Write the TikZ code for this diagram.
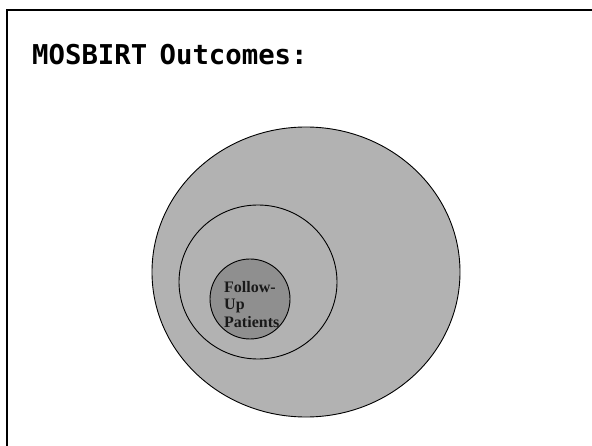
\documentclass[tikz,border=0pt]{standalone}
\usepackage{fontspec}
\newfontfamily\titlefont{DejaVu Sans Mono}
\newfontfamily\labelfont{Liberation Serif}
\definecolor{ringgray}{gray}{0.7}
\definecolor{coregray}{gray}{0.56}
\begin{document}
\begin{tikzpicture}[x=1pt,y=-1pt]
  \useasboundingbox (0,0) rectangle (592,446);

  % Rahmen.
  \draw[line width=2.5] (7,446) -- (7,10) -- (592,10);

  % Titel.
  \node[anchor=base west, inner sep=0] (title) at (32,65)
    {\titlefont\bfseries\fontsize{27.3}{30}\selectfont MOSBIRT\hspace{-4pt} Outcomes:};

  % Kreise.
  \tikzstyle{ring}=[draw, line width=0.9, fill=ringgray]
  \tikzstyle{core}=[draw, line width=0.9, fill=coregray]

  \draw[ring] (306,272) ellipse (154 and 145);
  \draw[ring] (258,282) ellipse (79 and 77);
  \draw[core] (250,299) ellipse (40 and 40);

  % Beschriftung.
  \node[anchor=north west, inner sep=0, align=left, text=black!90,
        font=\labelfont\bfseries\fontsize{16}{17.5}\selectfont]
    (patients) at (224,281) {Follow-\\Up\\Patients};
\end{tikzpicture}
\end{document}
